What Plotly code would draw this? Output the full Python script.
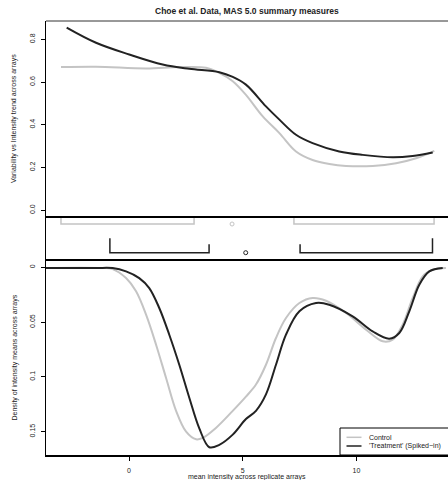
import plotly.graph_objects as go

# ---- data ----
# top panel: variability vs intensity trend
top_ctrl_x = [-2.99, -1.45, 0.75, 2.21, 3.38, 3.97, 4.56, 5.14, 5.88, 6.61, 7.34, 8.07, 8.81, 9.54, 10.71, 11.74, 12.62, 13.42]
top_ctrl_y = [0.670, 0.672, 0.664, 0.670, 0.667, 0.643, 0.604, 0.540, 0.439, 0.361, 0.275, 0.235, 0.216, 0.207, 0.207, 0.220, 0.243, 0.278]
top_trt_x = [-2.74, -1.45, 0.01, 1.48, 2.65, 3.97, 4.56, 5.14, 6.02, 6.61, 7.34, 8.07, 9.24, 10.27, 11.59, 12.47, 13.35]
top_trt_y = [0.855, 0.784, 0.729, 0.682, 0.662, 0.646, 0.624, 0.588, 0.486, 0.424, 0.353, 0.314, 0.275, 0.259, 0.248, 0.254, 0.270]

# middle panel: quantile summaries (5%, 25%, median, 75%, 95%)
ctrl_q = [-2.99, 2.86, 4.53, 7.25, 13.41]
trt_q = [-0.84, 3.52, 5.13, 7.52, 13.34]

# bottom panel: density of intensity means
den_ctrl_x = [-3.65, -1.16, -0.72, -0.13, 0.31, 0.75, 1.19, 1.63, 2.07, 2.51, 2.95, 3.24, 3.82, 4.56, 5.14, 5.58, 6.02, 6.46, 6.90, 7.49, 8.07, 8.66, 9.54, 10.42, 11.15, 11.59, 12.03, 12.47, 12.91, 13.35, 13.93]
den_ctrl_y = [0.0005, 0.0006, 0.0016, 0.0098, 0.0219, 0.0432, 0.0706, 0.101, 0.131, 0.150, 0.157, 0.1557, 0.1466, 0.131, 0.118, 0.107, 0.0889, 0.0645, 0.0463, 0.0326, 0.028, 0.0305, 0.0417, 0.0569, 0.0675, 0.066, 0.0523, 0.028, 0.0082, 0.0022, 0.0006]
den_trt_x = [-3.65, -1.45, -0.72, -0.13, 0.45, 0.89, 1.33, 1.77, 2.21, 2.65, 3.09, 3.53, 3.97, 4.56, 5.14, 5.58, 6.02, 6.46, 6.90, 7.49, 8.22, 8.80, 9.83, 10.71, 11.44, 11.88, 12.32, 12.76, 13.20, 13.79]
den_trt_y = [0.0005, 0.0006, 0.0007, 0.0037, 0.0098, 0.0189, 0.0371, 0.0615, 0.0889, 0.119, 0.147, 0.1642, 0.162, 0.1527, 0.1385, 0.131, 0.116, 0.0889, 0.0615, 0.0401, 0.0326, 0.0341, 0.0447, 0.0584, 0.0651, 0.0599, 0.0401, 0.0159, 0.0037, 0.0006]

x_ticks = [0, 5, 10]
top_ticks = [0.0, 0.2, 0.4, 0.6, 0.8]
top_ticklabels = ["0.0", "0.2", "0.4", "0.6", "0.8"]
bot_ticks = [0, 0.05, 0.1, 0.15]
bot_ticklabels = ["0", "0.05", "0.1", "0.15"]

title = "Choe et al. Data, MAS 5.0 summary measures"
ylab_top = "Variability vs Intensity trend across arrays"
ylab_bot = "Density of intensity means across arrays"
xlab = "mean intensity across replicate arrays"
legend_labels = ["Control", "'Treatment' (Spiked\u2212in)"]

GRAY = "#c4c4c4"
DARK = "#222222"
FONT = "Liberation Sans, Arial, sans-serif"

W, H = 448, 480
ML, MR, MT, MB = 46, 0, 21, 25
PW, PH = W - ML - MR, H - MT - MB


def px(x):
    return (x - ML) / PW


def py(y):
    return (H - MB - y) / PH


top_dom = [py(217), 1]
mid_dom = [py(260), py(217)]
bot_dom = [0, py(260)]

fig = go.Figure()

# top panel
fig.add_trace(go.Scatter(x=top_ctrl_x, y=top_ctrl_y, mode="lines", line=dict(color=GRAY, width=2, shape="spline"), xaxis="x", yaxis="y"))
fig.add_trace(go.Scatter(x=top_trt_x, y=top_trt_y, mode="lines", line=dict(color=DARK, width=2, shape="spline"), xaxis="x", yaxis="y"))

# middle panel: gray brackets hanging from top
yc, ytop = 0.837, 1.0
gx = [ctrl_q[0], ctrl_q[0], ctrl_q[1], ctrl_q[1], None, ctrl_q[3], ctrl_q[3], ctrl_q[4], ctrl_q[4]]
gy = [ytop, yc, yc, ytop, None, ytop, yc, yc, ytop]
fig.add_trace(go.Scatter(x=gx, y=gy, mode="lines", line=dict(color=GRAY, width=1.5), xaxis="x", yaxis="y2"))
fig.add_trace(go.Scatter(x=[ctrl_q[2]], y=[yc], mode="markers", marker=dict(symbol="circle-open", size=4, color=GRAY, line=dict(width=1)), xaxis="x", yaxis="y2"))
yd, yhi, ylo = 0.17, 0.505, 0.365
dx = [trt_q[0], trt_q[0], trt_q[1], trt_q[1], None, trt_q[3], trt_q[3], trt_q[4], trt_q[4]]
dy = [yhi, yd, yd, ylo, None, ylo, yd, yd, yhi]
fig.add_trace(go.Scatter(x=dx, y=dy, mode="lines", line=dict(color=DARK, width=1.5), xaxis="x", yaxis="y2"))
fig.add_trace(go.Scatter(x=[trt_q[2]], y=[yd], mode="markers", marker=dict(symbol="circle-open", size=4, color=DARK, line=dict(width=1)), xaxis="x", yaxis="y2"))

# bottom panel
fig.add_trace(go.Scatter(x=den_ctrl_x, y=den_ctrl_y, mode="lines", line=dict(color=GRAY, width=2, shape="spline"), xaxis="x", yaxis="y3"))
fig.add_trace(go.Scatter(x=den_trt_x, y=den_trt_y, mode="lines", line=dict(color=DARK, width=2, shape="spline"), xaxis="x", yaxis="y3"))

xr = [(ML - 129) / 22.75, (W - 129) / 22.75]

fig.update_layout(
    width=W, height=H,
    margin=dict(l=ML, r=MR, t=MT, b=MB),
    paper_bgcolor="white", plot_bgcolor="white",
    showlegend=False,
    font=dict(family=FONT, size=7, color="#222222"),
    xaxis=dict(range=xr, anchor="y3", tickvals=x_ticks, ticks="outside", ticklen=4, tickcolor="black",
               showgrid=False, zeroline=False, showline=True, linecolor="black", linewidth=1.5,
               tickfont=dict(size=7), ticklabelstandoff=4),
    yaxis=dict(domain=top_dom, range=[-0.032, 0.886], anchor="x", tickvals=top_ticks, ticktext=top_ticklabels,
               tickangle=-90, ticks="outside", ticklen=4, tickcolor="black", showgrid=False, zeroline=False,
               showline=True, linecolor="black", linewidth=1, tickfont=dict(size=7), ticklabelstandoff=3),
    yaxis2=dict(domain=mid_dom, range=[0, 1], anchor="x", showticklabels=False, ticks="", showgrid=False,
                zeroline=False, showline=True, linecolor="black", linewidth=1),
    yaxis3=dict(domain=bot_dom, range=[0.1713, -0.0067], anchor="x", tickvals=bot_ticks, ticktext=bot_ticklabels,
                tickangle=-90, ticks="outside", ticklen=4, tickcolor="black", showgrid=False, zeroline=False,
                showline=True, linecolor="black", linewidth=1, tickfont=dict(size=7), ticklabelstandoff=3),
)

shapes = [
    dict(type="line", xref="paper", yref="paper", x0=0, x1=1, y0=1, y1=1, line=dict(color="#333333", width=1)),
    dict(type="line", xref="paper", yref="paper", x0=0, x1=1, y0=top_dom[0], y1=top_dom[0], line=dict(color="black", width=2)),
    dict(type="line", xref="paper", yref="paper", x0=0, x1=1, y0=mid_dom[0], y1=mid_dom[0], line=dict(color="black", width=2)),
    # legend box
    dict(type="rect", xref="paper", yref="paper", x0=px(340), x1=px(449), y0=py(455), y1=py(428),
         line=dict(color="black", width=1), fillcolor="white"),
    dict(type="line", xref="paper", yref="paper", x0=px(346.5), x1=px(361.5), y0=py(437.3), y1=py(437.3), line=dict(color=GRAY, width=1.5)),
    dict(type="line", xref="paper", yref="paper", x0=px(346.5), x1=px(361.5), y0=py(446), y1=py(446), line=dict(color=DARK, width=1.5)),
]
fig.update_layout(shapes=shapes)

ann = [
    dict(text="<b>" + title + "</b>", x=px(247), y=py(11.5), xref="paper", yref="paper", showarrow=False,
         xanchor="center", yanchor="middle", font=dict(size=8.5, family=FONT)),
    dict(text=ylab_top, x=px(14), y=py(119), xref="paper", yref="paper", showarrow=False, textangle=-90,
         xanchor="center", yanchor="middle", font=dict(size=7, family=FONT)),
    dict(text=ylab_bot, x=px(14), y=py(357.5), xref="paper", yref="paper", showarrow=False, textangle=-90,
         xanchor="center", yanchor="middle", font=dict(size=7, family=FONT)),
    dict(text=xlab, x=px(247), y=py(477), xref="paper", yref="paper", showarrow=False,
         xanchor="center", yanchor="middle", font=dict(size=7, family=FONT)),
    dict(text=legend_labels[0], x=px(366.5), y=py(437.3), xref="paper", yref="paper", showarrow=False,
         xanchor="left", yanchor="middle", font=dict(size=7, family=FONT)),
    dict(text=legend_labels[1], x=px(366.5), y=py(446), xref="paper", yref="paper", showarrow=False,
         xanchor="left", yanchor="middle", font=dict(size=7, family=FONT)),
]
fig.update_layout(annotations=ann)

fig.write_html("out.html")
